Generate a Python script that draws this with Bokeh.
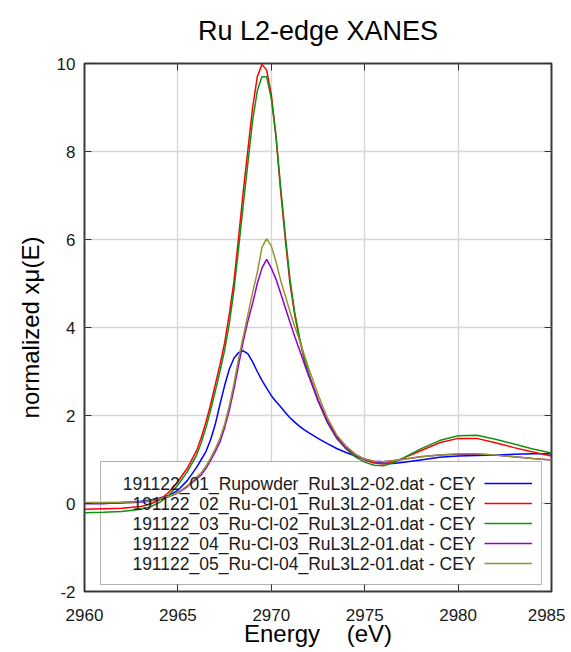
from bokeh.plotting import figure
from bokeh.models import (FixedTicker, LinearAxis, Label, BoxAnnotation, Legend, LegendItem)
from bokeh.embed import file_html
from bokeh.resources import INLINE

# ---------------- data ----------------
energy = [2960, 2961, 2962, 2963, 2963.5, 2964, 2964.5, 2965, 2965.5, 2966,
          2966.25, 2966.5, 2966.75, 2967, 2967.25, 2967.5, 2967.75, 2968, 2968.25, 2968.5,
          2968.75, 2969, 2969.25, 2969.5, 2969.75, 2970, 2970.25, 2970.5, 2970.75, 2971,
          2971.25, 2971.5, 2971.75, 2972, 2972.5, 2973, 2973.5, 2974, 2974.5, 2975,
          2975.5, 2976, 2976.5, 2977, 2978, 2979, 2980, 2981, 2982, 2983, 2984, 2985]

ru_powder = [0.0, 0.0, 0.02, 0.05, 0.08, 0.12, 0.18, 0.3, 0.52, 0.82,
             1.0, 1.18, 1.45, 1.8, 2.25, 2.68, 3.05, 3.3, 3.43, 3.47,
             3.4, 3.22, 3.0, 2.8, 2.62, 2.45, 2.32, 2.2, 2.07, 1.95,
             1.85, 1.76, 1.68, 1.61, 1.48, 1.36, 1.25, 1.16, 1.08, 1.01,
             0.95, 0.92, 0.91, 0.93, 0.99, 1.05, 1.08, 1.09, 1.1, 1.12, 1.13, 1.13]

ru_cl_01 = [-0.13, -0.12, -0.11, -0.07, -0.02, 0.08, 0.25, 0.5, 0.8, 1.2,
            1.5, 1.85, 2.25, 2.7, 3.15, 3.65, 4.3, 5.05, 6.05, 7.1,
            8.05, 9.0, 9.7, 9.98, 9.85, 9.3, 8.35, 7.1, 6.0, 5.0,
            4.3, 3.75, 3.3, 2.95, 2.35, 1.88, 1.53, 1.3, 1.12, 0.99,
            0.92, 0.9, 0.94, 1.02, 1.2, 1.38, 1.48, 1.48, 1.38, 1.27, 1.17, 1.08]

ru_cl_02 = [-0.21, -0.2, -0.18, -0.13, -0.08, 0.02, 0.18, 0.42, 0.72, 1.1,
            1.38, 1.72, 2.12, 2.55, 3.0, 3.48, 4.08, 4.85, 5.8, 6.8,
            7.75, 8.7, 9.38, 9.7, 9.7, 9.2, 8.35, 7.2, 6.1, 5.1,
            4.35, 3.8, 3.32, 2.95, 2.33, 1.84, 1.48, 1.24, 1.06, 0.94,
            0.87, 0.86, 0.92, 1.02, 1.24, 1.43, 1.54, 1.55, 1.46, 1.35, 1.24, 1.15]

ru_cl_03 = [0.0, 0.0, 0.01, 0.03, 0.05, 0.09, 0.15, 0.24, 0.38, 0.56,
            0.65, 0.8, 0.98, 1.18, 1.4, 1.72, 2.12, 2.6, 3.15, 3.69,
            4.15, 4.55, 5.0, 5.35, 5.55, 5.35, 5.1, 4.78, 4.45, 4.12,
            3.8, 3.5, 3.2, 2.9, 2.35, 1.86, 1.5, 1.27, 1.1, 1.0,
            0.96, 0.95, 0.97, 1.0, 1.06, 1.1, 1.12, 1.12, 1.1, 1.06, 1.02, 0.99]

ru_cl_04 = [0.02, 0.02, 0.03, 0.04, 0.06, 0.1, 0.16, 0.25, 0.4, 0.6,
            0.7, 0.85, 1.03, 1.24, 1.48, 1.8, 2.22, 2.72, 3.3, 3.8,
            4.3, 4.8, 5.25, 5.82, 6.02, 5.85, 5.5, 5.07, 4.72, 4.36,
            4.03, 3.72, 3.4, 3.08, 2.48, 1.95, 1.56, 1.3, 1.12, 1.01,
            0.96, 0.95, 0.97, 1.0, 1.06, 1.1, 1.13, 1.13, 1.1, 1.06, 1.02, 0.99]

series_names = ["191122_01_Rupowder_RuL3L2-02.dat - CEY",
                "191122_02_Ru-Cl-01_RuL3L2-01.dat - CEY",
                "191122_03_Ru-Cl-02_RuL3L2-01.dat - CEY",
                "191122_04_Ru-Cl-03_RuL3L2-01.dat - CEY",
                "191122_05_Ru-Cl-04_RuL3L2-01.dat - CEY"]
series_values = [ru_powder, ru_cl_01, ru_cl_02, ru_cl_03, ru_cl_04]
series_colors = ["#0000ff", "#ff0000", "#138f13", "#9400d3", "#959530"]

x_ticks = [2960, 2965, 2970, 2975, 2980, 2985]
x_tick_labels = ["2960", "2965", "2970", "2975", "2980", "2985"]
y_ticks = [-2, 0, 2, 4, 6, 8, 10]
y_tick_labels = ["-2", "0", "2", "4", "6", "8", "10"]

title_text = "Ru L2-edge XANES"
x_label = "Energy\u00a0\u00a0\u00a0\u00a0(eV)"
y_label = "normalized x\u03bc(E)"

# ---------------- figure ----------------
FONT = "Liberation Sans"

p = figure(width=565, height=652, x_range=(x_ticks[0], x_ticks[-1]),
           y_range=(y_ticks[0], y_ticks[-1]),
           output_backend="svg", toolbar_location=None,
           min_border_left=84, min_border_right=14,
           min_border_top=62, min_border_bottom=61)

bottom_axis = p.below[0]
left_axis = p.left[0]

p.title.text = title_text
p.title.align = "center"
p.title.vertical_align = "top"
p.title.text_font = FONT
p.title.text_font_size = "27px"
p.title.text_font_style = "normal"
p.title.text_color = "#000000"
p.title.standoff = 31

p.outline_line_color = "#3a3a3a"
p.outline_line_width = 2
p.background_fill_color = "white"
p.border_fill_color = "white"

top_axis = LinearAxis()
right_axis = LinearAxis()
p.add_layout(top_axis, "above")
p.add_layout(right_axis, "right")

xaxes = [bottom_axis, top_axis]
yaxes = [left_axis, right_axis]
for ax in xaxes:
    ax.ticker = FixedTicker(ticks=x_ticks)
    ax.major_label_overrides = {t: l for t, l in zip(x_ticks, x_tick_labels)}
for ax in yaxes:
    ax.ticker = FixedTicker(ticks=y_ticks)
    ax.major_label_overrides = {t: l for t, l in zip(y_ticks, y_tick_labels)}
for ax in xaxes + yaxes:
    ax.axis_line_color = None
    ax.major_tick_in = 7
    ax.major_tick_out = 0
    ax.major_tick_line_color = "#333333"
    ax.major_tick_line_width = 1
    ax.minor_tick_line_color = None
    ax.major_label_text_font = FONT
    ax.major_label_text_font_size = "17px"
    ax.major_label_text_color = "#1a1a1a"

for ax in [top_axis, right_axis]:
    ax.major_label_text_color = None
    ax.major_label_text_font_size = "2px"
    ax.major_label_standoff = 0

bottom_axis.major_label_standoff = 17
left_axis.major_label_standoff = 9

left_axis.axis_label = y_label
bottom_axis.axis_label = x_label
for ax in [left_axis, bottom_axis]:
    ax.axis_label_text_font = FONT
    ax.axis_label_text_font_size = "24px"
    ax.axis_label_text_font_style = "normal"
    ax.axis_label_text_color = "#000000"
left_axis.axis_label_standoff = 10
bottom_axis.axis_label_standoff = -4

p.xgrid.ticker = FixedTicker(ticks=x_ticks)
p.ygrid.ticker = FixedTicker(ticks=y_ticks)
for g in [p.xgrid[0], p.ygrid[0]]:
    g.grid_line_color = "#d6d6d6"
    g.grid_line_width = 1.3

# legend box (drawn under curves, hides grid)
box = BoxAnnotation(left=16, right=457, bottom=7, top=130,
                    left_units="screen", right_units="screen",
                    bottom_units="screen", top_units="screen",
                    fill_color="white", fill_alpha=1.0,
                    line_color="#000000", line_width=1, level="underlay")
p.add_layout(box)

renderers = []
for vals, col in zip(series_values, series_colors):
    r = p.line(energy, vals, line_color=col, line_width=1.5)
    renderers.append(r)

# legend samples (line on the right of the text)
ROW_H = 20
LEG_TOP = 118          # frame-relative, px from frame bottom
leg = Legend(items=[LegendItem(label=" ", renderers=[r]) for r in renderers],
             location=(400, LEG_TOP - ROW_H * len(renderers)),
             glyph_width=48, glyph_height=ROW_H, label_height=ROW_H,
             label_width=0, label_standoff=0, spacing=0, padding=0, margin=0,
             border_line_color=None, background_fill_alpha=0.0,
             label_text_color=None, label_text_font_size="2px")
p.add_layout(leg)

for i, name in enumerate(series_names):
    p.add_layout(Label(x=391, y=LEG_TOP - ROW_H * (i + 0.5),
                       x_units="screen", y_units="screen", text=name,
                       text_align="right", text_baseline="middle",
                       text_font=FONT, text_font_size="17.5px", text_color="#1a1a1a"))

open("out.html", "w").write(file_html(p, INLINE))
